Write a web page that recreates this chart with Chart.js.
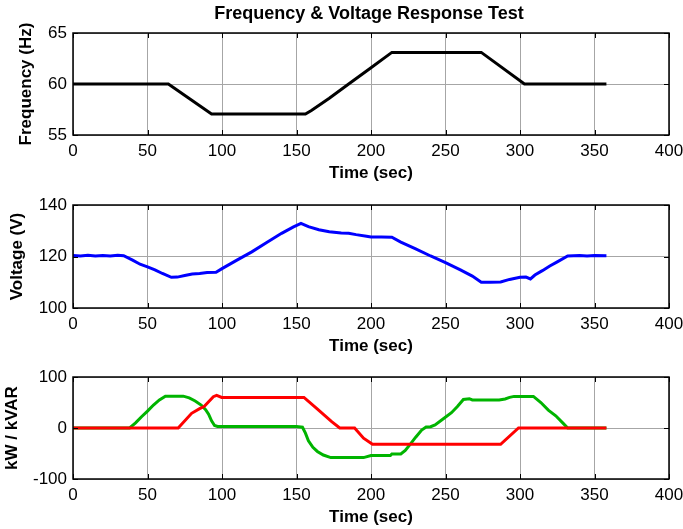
<!DOCTYPE html>
<html>
<head>
<meta charset="utf-8">
<script src="https://cdn.jsdelivr.net/npm/chart.js@4.4.1/dist/chart.umd.min.js"></script>
<style>
  body { margin: 0; background: #fff; }
  #wrap { position: relative; width: 683px; height: 529px; }
  canvas { position: absolute; left: 0; }
</style>
</head>
<body>
<div id="wrap">
  <canvas id="freqChart" width="683" height="190" style="top:0"></canvas>
  <canvas id="voltChart" width="683" height="190" style="top:180px"></canvas>
  <canvas id="powerChart" width="683" height="174" style="top:355px"></canvas>
</div>
<script>
// Frequency & Voltage Response Test — three stacked MATLAB-style subplots
const timeTicks = [0, 50, 100, 150, 200, 250, 300, 350, 400];
const freqTicks = [55, 60, 65];
const voltTicks = [100, 120, 140];
const powerTicks = [-100, 0, 100];

const freqTime = [0, 64, 93, 156, 160, 172, 185, 200, 214, 274, 303, 358];
const freqValue = [60, 60, 57.05, 57.05, 57.4, 58.6, 60, 61.6, 63.1, 63.1, 60, 60];

const voltTime = [0, 5, 10, 15, 20, 25, 30, 34, 40, 45, 50, 55, 60, 66, 70, 75, 80, 85, 90, 96,
  100, 110, 120, 130, 140, 148, 153, 158, 165, 172, 180, 185, 190, 197, 200, 207, 214,
  220, 230, 240, 250, 260, 268, 274, 280, 287, 293, 300, 304, 307, 310, 315, 320, 325, 332,
  340, 345, 350, 358];
const voltValue = [120.4, 120.2, 120.5, 120.2, 120.4, 120.2, 120.5, 120.3, 118.6, 117.0, 116.0, 114.8, 113.4, 111.9, 112.0, 112.6, 113.2, 113.4, 113.8, 113.9,
  115.3, 118.6, 121.8, 125.4, 129.0, 131.5, 132.9, 131.6, 130.4, 129.6, 129.1, 129.0, 128.5, 127.9, 127.6, 127.6, 127.5,
  125.6, 123.0, 120.2, 117.6, 114.8, 112.4, 110.0, 110.0, 110.1, 111.1, 111.9, 112.0, 111.3, 112.8, 114.5, 116.3, 117.9, 120.2,
  120.4, 120.2, 120.4, 120.3];

const kwTime = [0, 70.6, 79.6, 85, 88, 94.2, 96.4, 99.8, 155, 163.5, 173.6, 179, 189, 195, 201, 287, 299, 358];
const kwValue = [0, 0, 28.8, 38, 42, 61.4, 64, 60, 60, 38.6, 12.4, 0, 0, -20, -32, -32, 0, 0];

const kvarTime = [0, 38, 42, 46, 50, 54, 58, 62, 74, 78, 82, 86, 89, 91, 93, 95, 97, 150, 154,
  156, 158, 161, 164, 168, 173, 195, 200, 213, 214, 220, 223, 226, 230, 234, 237, 240, 243,
  249, 254, 258, 262, 266, 268, 286, 290, 293, 296, 309, 314, 319, 324, 329, 332, 358];
const kvarValue = [0, 0, 10, 22, 33, 45, 55, 62.5, 62.5, 59, 53, 45, 36, 27, 14, 5, 3, 3, 1.5,
  -10, -25, -38, -46, -53, -58, -58, -54, -54, -51, -51, -44, -33, -18, -4, 2, 2.6, 6,
  19, 30, 42, 56, 57.5, 55, 55, 57, 60, 62, 62, 50, 35, 24, 9, 0, 0];

const FONT = '"Liberation Sans", Arial, sans-serif';
Chart.defaults.font.family = FONT;
Chart.defaults.font.size = 17;
Chart.defaults.color = '#000';

function toPoints(xs, ys) {
  return xs.map((x, i) => ({ x: x, y: ys[i] }));
}

// box round the axes, inward tick marks on all four sides, optional figure title
const matlabBox = {
  id: 'matlabBox',
  afterDraw(chart, args, opts) {
    const ctx = chart.ctx;
    const a = chart.chartArea;
    const xs = chart.scales.x;
    const ys = chart.scales.y;
    const len = 5;
    ctx.save();
    ctx.strokeStyle = '#000';
    ctx.lineWidth = 1;
    ctx.beginPath();
    xs.ticks.forEach(t => {
      const px = Math.round(xs.getPixelForValue(t.value)) + 0.5;
      ctx.moveTo(px, a.top); ctx.lineTo(px, a.top + len);
      ctx.moveTo(px, a.bottom); ctx.lineTo(px, a.bottom - len);
    });
    ys.ticks.forEach(t => {
      const py = Math.round(ys.getPixelForValue(t.value)) + 0.5;
      ctx.moveTo(a.left, py); ctx.lineTo(a.left + len, py);
      ctx.moveTo(a.right, py); ctx.lineTo(a.right - len, py);
    });
    ctx.stroke();
    ctx.lineWidth = 1.5;
    ctx.strokeRect(a.left, a.top, a.right - a.left, a.bottom - a.top);
    if (opts && opts.title) {
      ctx.font = 'bold 18px ' + FONT;
      ctx.fillStyle = '#000';
      ctx.textAlign = 'center';
      ctx.textBaseline = 'middle';
      ctx.fillText(opts.title, (a.left + a.right) / 2 - 2, opts.titleY);
    }
    ctx.restore();
  }
};

const gridStyle = { color: '#a6a6a6', borderDash: [1, 1], lineWidth: 1, drawTicks: false };

function makeChart(id, datasets, yMin, yMax, yTicks, yTitle, yTitlePad, padTop, padBottom, title) {
  return new Chart(document.getElementById(id).getContext('2d'), {
    type: 'line',
    data: { datasets: datasets },
    options: {
      responsive: false,
      animation: false,
      devicePixelRatio: 1,
      layout: { padding: { top: padTop, bottom: padBottom, left: 0, right: 14 } },
      plugins: {
        legend: { display: false },
        tooltip: { enabled: false },
        matlabBox: { title: title, titleY: 14 }
      },
      elements: { point: { radius: 0 }, line: { tension: 0, borderWidth: 3 } },
      scales: {
        x: {
          type: 'linear', min: 0, max: 400,
          grid: gridStyle,
          border: { display: false },
          afterBuildTicks: s => { s.ticks = timeTicks.map(v => ({ value: v })); },
          afterFit: s => { s.height = 50; s.paddingLeft = 0; s.paddingRight = 0; },
          ticks: { padding: 6, maxRotation: 0, autoSkip: false },
          title: { display: true, text: 'Time (sec)', font: { weight: 'bold', size: 17 }, padding: { top: 0, bottom: 1 } }
        },
        y: {
          min: yMin, max: yMax,
          grid: gridStyle,
          border: { display: false },
          afterBuildTicks: s => { s.ticks = yTicks.map(v => ({ value: v })); },
          afterFit: s => { s.width = 73; s.paddingTop = 0; s.paddingBottom = 0; },
          ticks: { padding: 6 },
          title: { display: true, text: yTitle, font: { weight: 'bold', size: 17 }, padding: { top: yTitlePad, bottom: 0 } }
        }
      }
    },
    plugins: [matlabBox]
  });
}

makeChart('freqChart', [
  { data: toPoints(freqTime, freqValue), borderColor: '#000000' }
], 55, 65, freqTicks, 'Frequency (Hz)', 16, 33, 5, 'Frequency & Voltage Response Test');

makeChart('voltChart', [
  { data: toPoints(voltTime, voltValue), borderColor: '#0000ff' }
], 100, 140, voltTicks, 'Voltage (V)', 7, 25, 12, null);

makeChart('powerChart', [
  { data: toPoints(kwTime, kwValue), borderColor: '#ff0000' },
  { data: toPoints(kvarTime, kvarValue), borderColor: '#00b400' }
], -100, 100, powerTicks, 'kW / kVAR', 2, 22, 0, null);
</script>
</body>
</html>
